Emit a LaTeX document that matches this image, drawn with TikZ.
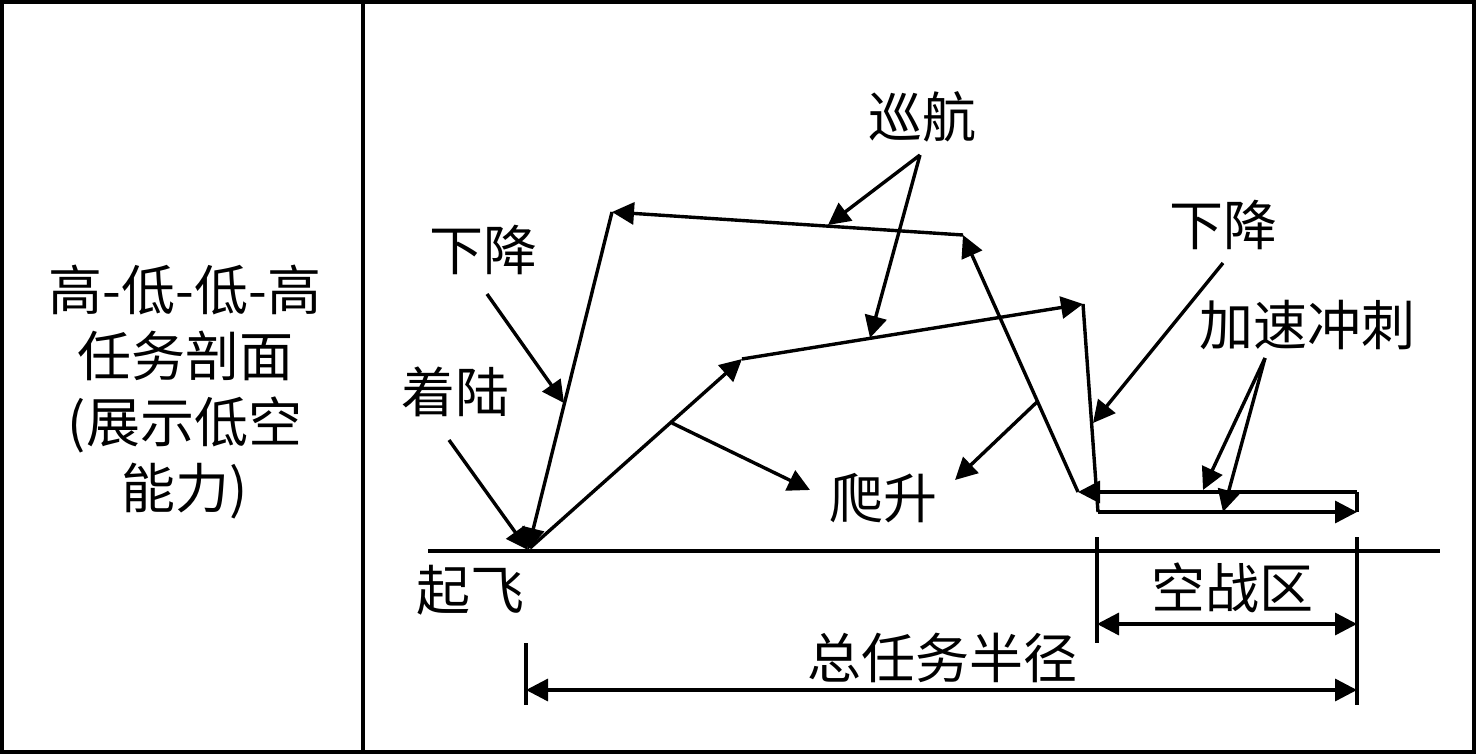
\documentclass[tikz,border=0pt]{standalone}
\usepackage{fontspec}
\setmainfont{Noto Sans CJK SC}
\usetikzlibrary{arrows.meta,positioning}
\tikzset{
    lbl/.style={inner sep=0pt,font=\fontsize{54}{66}\selectfont},
    seg/.style={line width=3.4pt,-{Triangle[length=22pt,width=22pt]}},
    bare/.style={line width=3.4pt},
    dim/.style={line width=3.4pt,{Triangle[length=22pt,width=22pt]}-{Triangle[length=22pt,width=22pt]}}
}
\begin{document}
\begin{tikzpicture}[x=1pt,y=-1pt]
    \useasboundingbox (0,0) rectangle (1476,754);
    % frame
    \draw[line width=3.4pt] (2,2) rectangle (1474,752);
    \draw[line width=3.4pt] (363,2) -- (363,752);
    \node[lbl,align=center] (title) at (185,392) {高-低-低-高\\任务剖面\\(展示低空\\能力)};
    % ground
    \coordinate (g0) at (428,551);
    \coordinate (g1) at (1440,551);
    \draw[bare] (g0) -- (g1);
    % profile points
    \coordinate (T) at (530,548);
    \coordinate (C1) at (742,359);
    \coordinate (C2) at (1083,304);
    \coordinate (D1) at (1098,512);
    \coordinate (D2) at (1357,512);
    \coordinate (D3) at (1357,492);
    \coordinate (D4) at (1078,492);
    \coordinate (R1) at (963,235);
    \coordinate (R2) at (612,212);
    \coordinate (L) at (528,550);
    \draw[seg] (T) -- (C1);
    \draw[seg] (C1) -- (C2);
    \draw[bare] (C2) -- (D1);
    \draw[seg] (D1) -- (D2);
    \draw[bare] (D2) -- (D3);
    \draw[seg] (D3) -- (D4);
    \draw[seg] (D4) -- (R1);
    \draw[seg] (R1) -- (R2);
    \draw[seg] (R2) -- (L);
    % labels and pointers
    \node[lbl] (cruise) at (922,117) {巡航};
    \coordinate (cr0) at (920,155);
    \coordinate (cr1) at (828,225);
    \coordinate (cr2) at (870,338);
    \draw[seg] (cr0) -- (cr1);
    \draw[seg] (cr0) -- (cr2);
    \node[lbl] (descA) at (483,250) {下降};
    \coordinate (da0) at (487,294);
    \coordinate (da1) at (564,403);
    \draw[seg] (da0) -- (da1);
    \node[lbl] (land) at (455,392) {着陆};
    \coordinate (ld0) at (449,440);
    \draw[seg] (ld0) -- (L);
    \node[lbl] (climb) at (883,498) {爬升};
    \coordinate (cl0) at (672,423);
    \coordinate (cl1) at (810,490);
    \coordinate (cl2) at (1037,402);
    \coordinate (cl3) at (955,480);
    \draw[seg] (cl0) -- (cl1);
    \draw[seg] (cl2) -- (cl3);
    \node[lbl] (descB) at (1223,225) {下降};
    \coordinate (db0) at (1223,263);
    \coordinate (db1) at (1093,423);
    \draw[seg] (db0) -- (db1);
    \node[lbl] (dash) at (1307,325) {加速冲刺};
    \coordinate (ds0) at (1265,358);
    \coordinate (ds1) at (1203,490);
    \coordinate (ds2) at (1223,512);
    \draw[seg] (ds0) -- (ds1);
    \draw[seg] (ds0) -- (ds2);
    \node[lbl] (takeoff) at (470,590) {起飞};
    % dimensions
    \coordinate (k1) at (1097,537);
    \coordinate (k1b) at (1097,643);
    \coordinate (k2) at (1357,537);
    \coordinate (k2b) at (1357,705);
    \coordinate (k3) at (526,643);
    \coordinate (k3b) at (526,705);
    \draw[bare] (k1) -- (k1b);
    \draw[bare] (k2) -- (k2b);
    \draw[bare] (k3) -- (k3b);
    \node[lbl] (combat) at (1232,588) {空战区};
    \coordinate (w1) at (1097,624);
    \coordinate (w2) at (1357,624);
    \draw[dim] (w1) -- (w2);
    \node[lbl] (radius) at (942,658) {总任务半径};
    \coordinate (r1) at (526,690);
    \coordinate (r2) at (1357,690);
    \draw[dim] (r1) -- (r2);
\end{tikzpicture}
\end{document}
